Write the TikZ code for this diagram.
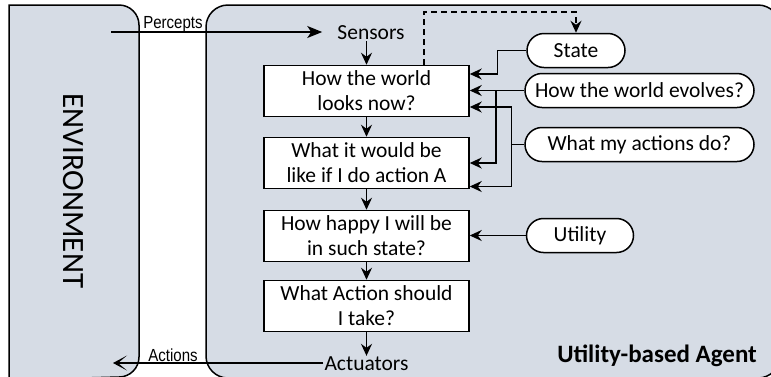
\documentclass[tikz,border=0pt]{standalone}
\usepackage{fontspec}
\setmainfont{Carlito}
\newfontfamily\labelfont[FakeStretch=0.86]{Liberation Sans}
\usetikzlibrary{arrows.meta,shapes.misc,calc}

\definecolor{panel}{RGB}{214,220,229}

\tikzset{
  panelshape/.style={fill=panel, draw=black, line width=1.5pt},
  stepbox/.style={draw=black, fill=white, line width=1.5pt, minimum width=205pt,
    minimum height=51pt, align=center, inner sep=2pt,
    font=\fontsize{21.5}{25}\selectfont},
  pill/.style={rounded rectangle, draw=black, fill=white, line width=1.5pt,
    minimum height=34pt, inner sep=2pt, font=\fontsize{21.5}{25}\selectfont},
  plain/.style={inner sep=1pt, font=\fontsize{21.5}{25}\selectfont},
  flowlabel/.style={inner sep=0pt, font=\labelfont\fontsize{17.5}{20}\selectfont},
  tip/.style={-{Stealth[length=12pt,width=11pt,inset=4pt]}},
  conn/.style={draw=black, line width=1.5pt, tip},
}

\begin{document}
\begin{tikzpicture}[x=1pt,y=-1pt]
  \useasboundingbox (0,0) rectangle (771,376);
  \clip (0,0) rectangle (771,376);

  % environment panel and agent panel
  \path[panelshape] (9,380) -- (9,5) -- (119,5)
    arc[start angle=-90,end angle=0,radius=20] -- (139,357)
    arc[start angle=0,end angle=90,radius=20] -- cycle;
  \draw[panelshape, rounded corners=22pt] (206,5) rectangle (780,378);

  \node[rotate=-90, inner sep=0pt, font=\fontsize{31}{34}\selectfont] (env) at (73,191) {ENVIRONMENT};
  \node[anchor=base east, inner sep=0pt, font=\bfseries\fontsize{25}{28}\selectfont] (agent) at (757,362) {Utility-based Agent};

  % sensors, actuators and the decision steps
  \node[plain] (sensors) at (371,33) {Sensors};
  \node[plain] (actuators) at (366.5,364) {Actuators};

  \node[stepbox] (b1) at (366.5,91) {How the world\\looks now?};
  \node[stepbox] (b2) at (366.5,163) {What it would be\\like if I do action A};
  \node[stepbox] (b3) at (366.5,236) {How happy I will be\\in such state?};
  \node[stepbox] (b4) at (366.5,306) {What Action should\\I take?};

  % knowledge sources
  \node[pill, minimum width=102pt] (state) at (576,50.5) {State};
  \node[pill, minimum width=233pt] (evolves) at (639.5,90.5) {How the world evolves?};
  \node[pill, minimum width=233pt] (acts) at (639.5,144.5) {What my actions do?};
  \node[pill, minimum width=111pt] (utility) at (580,235.5) {Utility};

  % percepts and actions between the panels
  \coordinate (perceptin) at (111,32);
  \coordinate (actionout) at (113,363);
  \node[flowlabel, anchor=base] (percepts) at (173,28) {Percepts};
  \node[flowlabel, anchor=base] (actions) at (173,361.5) {Actions};

  \draw[line width=1.5pt, -{Stealth[length=15pt,width=12pt,inset=4pt]}]
    (perceptin) -- ([xshift=-14pt]sensors.west |- perceptin);
  \draw[line width=1.5pt, -{Stealth[length=14pt,width=15pt,inset=9pt]}]
    (actuators.west |- actionout) -- (actionout);

  % vertical flow
  \draw[conn] (b1.north |- sensors.south) -- (b1.north);
  \draw[conn] (b1) -- (b2);
  \draw[conn] (b2) -- (b3);
  \draw[conn] (b3) -- (b4);
  \draw[conn] (b4.south) -- (b4.south |- actuators.north);

  % state feedback (dashed)
  \draw[line width=1.5pt, dash pattern=on 6pt off 4pt, tip]
    (b1.north -| 424,0) -- (424,12) -| (state.north);

  % model inputs
  \draw[conn] (state.west) -- ++(-29,0) |- (b1.east |- 0,74);
  \draw[conn] (evolves.west) -- (b1.east |- evolves.west);
  \draw[conn] (evolves.west -| 496,0) |- (b2.east |- 0,163);
  \draw[conn] (acts.west) -- ++(-13,0) |- (b1.east |- 0,107);
  \draw[conn] (acts.west) -- ++(-13,0) |- (b2.east |- 0,186.5);
  \draw[conn] (utility.west) -- (b3.east |- utility.west);
\end{tikzpicture}
\end{document}
